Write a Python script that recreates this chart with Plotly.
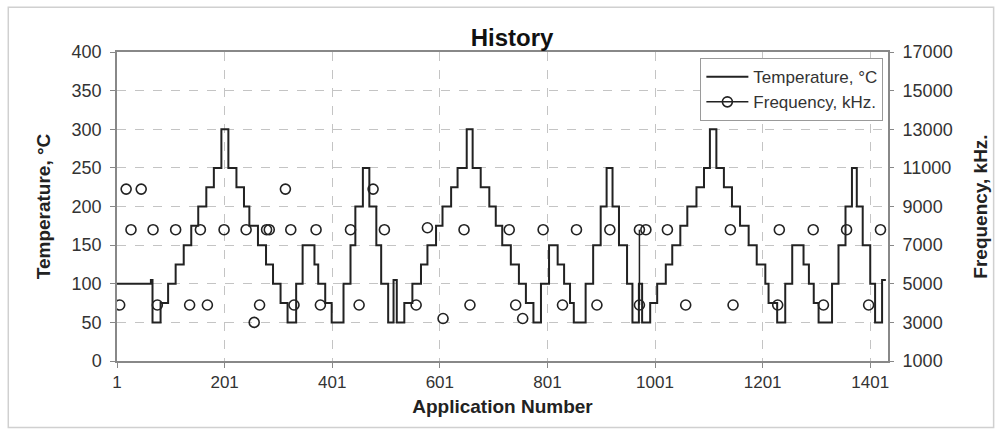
import plotly.graph_objects as go

# ---- data ----
# Temperature step changes: application number where a new temperature level starts
temp_app = [1, 64, 67, 82, 96, 110, 125, 139, 152, 167, 181, 195, 208, 223, 237, 247,
            263, 278, 291, 305, 318, 334, 346, 368, 375, 388, 400, 422, 435, 444, 458,
            470, 483, 492, 505, 515, 521, 535, 550, 566, 578, 594, 606, 622, 634, 651,
            662, 677, 693, 705, 717, 733, 748, 761, 775, 789, 804, 820, 832, 843, 850,
            872, 886, 900, 911, 922, 934, 949, 959, 971, 977, 992, 1005, 1021, 1033,
            1048, 1061, 1078, 1092, 1103, 1115, 1129, 1144, 1159, 1175, 1190, 1206,
            1212, 1228, 1243, 1256, 1277, 1287, 1296, 1305, 1330, 1342, 1355, 1367,
            1376, 1387, 1401, 1410, 1423, 1430]
temp_c = [100, 105, 50, 75, 100, 125, 150, 175, 200, 225, 250, 300, 250, 225, 200, 175,
          150, 125, 100, 75, 50, 100, 150, 125, 100, 75, 50, 100, 150, 200, 250,
          200, 150, 100, 50, 105, 50, 75, 100, 125, 150, 175, 200, 225, 250, 300,
          250, 225, 200, 175, 150, 125, 100, 75, 50, 100, 150, 125, 100, 75, 50,
          100, 150, 200, 250, 200, 150, 100, 50, 100, 50, 75, 100, 125, 150,
          175, 200, 225, 250, 300, 250, 225, 200, 175, 150, 125, 100,
          75, 50, 100, 150, 125, 100, 75, 50, 100, 150, 200, 250,
          200, 150, 100, 50, 105, 105]

# Frequency readings (kHz axis values)
freq_app = [6, 18, 27, 46, 68, 76, 110, 136, 156, 169, 200, 241, 256, 266, 279, 284,
            314, 324, 330, 371, 379, 435, 451, 477, 498, 557, 578, 607, 646, 657,
            730, 742, 755, 793, 829, 855, 893, 917, 972, 972, 984, 1024, 1058, 1141,
            1146, 1229, 1232, 1295, 1314, 1357, 1398, 1420]
freq_khz = [3900, 9900, 7800, 9900, 7800, 3900, 7800, 3900, 7800, 3900, 7800, 7800, 3000,
            3900, 7800, 7800, 9900, 7800, 3900, 7800, 3900, 7800, 3900, 9900, 7800,
            3900, 7900, 3200, 7800, 3900, 7800, 3900, 3200, 7800, 3900, 7800, 3900,
            7800, 7800, 3900, 7800, 7800, 3900, 7800, 3900, 3900, 7800, 7800, 3900,
            7800, 3900, 7800]
# consecutive readings joined by a line segment (index of the first of the pair)
freq_joined = {38}

x_ticks = [1, 201, 401, 601, 801, 1001, 1201, 1401]
y_ticks = list(range(0, 401, 50))
y2_ticks = list(range(1000, 17001, 2000))

# ---- build frequency trace with gaps ----
fx, fy = [], []
for i, (a, v) in enumerate(zip(freq_app, freq_khz)):
    fx.append(a)
    fy.append(v)
    if i not in freq_joined:
        fx.append(None)
        fy.append(None)

FONT = "Liberation Sans, Arial, sans-serif"
INK = "#222222"

fig = go.Figure()
fig.add_trace(go.Scatter(
    x=temp_app, y=temp_c, mode="lines", line_shape="hv",
    line=dict(color=INK, width=2), name="Temperature, °C"))
fig.add_trace(go.Scatter(
    x=fx, y=fy, mode="lines+markers", yaxis="y2", connectgaps=False,
    line=dict(color=INK, width=1.5),
    marker=dict(symbol="circle-open", size=10, color=INK, line=dict(width=1.6)),
    name="Frequency, kHz."))

grid = dict(showgrid=True, gridcolor="#c4c4c4", griddash="dash", gridwidth=1)
XTICKFONT = dict(size=17, color="#333333")
YTICKFONT = dict(size=18, color="#333333")

fig.update_layout(
    width=1000, height=435,
    margin=dict(l=117, r=110, t=52, b=74),
    paper_bgcolor="white", plot_bgcolor="white",
    font=dict(family=FONT, size=17, color="#333333"),
    title=dict(text="<b>History</b>", x=0.512, xanchor="center", y=0.913, yanchor="middle",
               font=dict(size=24, color="#111111")),
    showlegend=True,
    legend=dict(x=0.994, y=0.98, xanchor="right", yanchor="top",
                bgcolor="white", bordercolor="#9a9a9a", borderwidth=1,
                font=dict(size=17, color="#333333"), tracegroupgap=0,
                itemwidth=42),
    xaxis=dict(range=[1, 1434], tickmode="array", tickvals=x_ticks,
               ticks="outside", ticklen=5, tickcolor="#888888", tickfont=XTICKFONT,
               showline=True, linecolor="#888888", linewidth=1.5, mirror=True,
               zeroline=False,
               title=dict(text="<b>Application Number</b>", standoff=9,
                          font=dict(size=19, color="#222222")),
               **grid),
    yaxis=dict(range=[0, 400], tickmode="array", tickvals=y_ticks,
               ticks="outside", ticklen=5, tickcolor="#888888", tickfont=YTICKFONT,
               ticklabelstandoff=5,
               showline=True, linecolor="#888888", linewidth=1.5, mirror=True,
               zeroline=False,
               title=dict(text="<b>Temperature, °C</b>", standoff=16,
                          font=dict(size=19, color="#222222")),
               **grid),
    yaxis2=dict(range=[1000, 17000], tickmode="array", tickvals=y2_ticks,
                tickformat="d", tickfont=YTICKFONT, ticklabelstandoff=5,
                overlaying="y", side="right", showgrid=False, zeroline=False,
                ticks="outside", ticklen=5, tickcolor="#888888",
                title=dict(text="<b>Frequency, kHz.</b>", standoff=22,
                           font=dict(size=19, color="#222222"))),
    shapes=[dict(type="rect", xref="paper", yref="paper",
                 x0=-0.141, x1=1.137, y0=-0.215, y1=1.145,
                 line=dict(color="#d0d0d0", width=1.5), fillcolor="rgba(0,0,0,0)",
                 layer="below")],
)

fig.write_html("out.html")
